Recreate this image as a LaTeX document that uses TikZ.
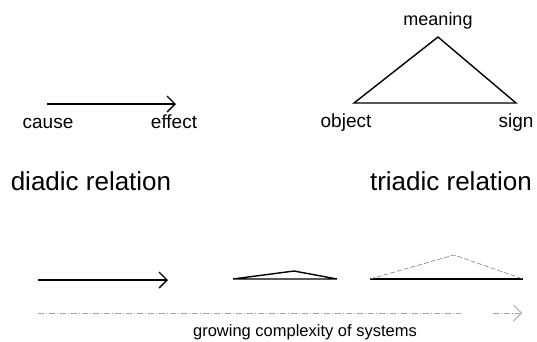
\documentclass[tikz,border=0pt]{standalone}
\usepackage{fontspec}
\setmainfont{Liberation Sans}
\usetikzlibrary{arrows.meta}
\begin{document}
\begin{tikzpicture}[x=1pt,y=-1pt,>={Straight Barb[length=8pt,width=16pt]},
  rel/.style={line width=1.4pt},
  lbl/.style={anchor=base,inner sep=0pt,font=\fontsize{19}{21}\selectfont},
  title/.style={anchor=base,inner sep=0pt,font=\fontsize{26}{28}\selectfont},
  faint/.style={gray,line width=0.6pt,dash pattern=on 5pt off 2pt},
  dashdot/.style={gray!70,line width=0.8pt,dash pattern=on 6pt off 2pt on 1pt off 2pt}]
\useasboundingbox (0,0) rectangle (537,341);
% diadic relation
\coordinate (cs) at (47,104);
\coordinate (ef) at (176,104);
\draw[rel,->] (cs) -- (ef);
\node[lbl] (cause) at (48,128) {cause};
\node[lbl] (effect) at (174,128) {effect};
% triadic relation
\coordinate (ob) at (354,103);
\coordinate (me) at (438,37);
\coordinate (si) at (516,103);
\draw[rel] (ob) -- (me) -- (si) -- cycle;
\node[lbl,font=\fontsize{18}{20}\selectfont] (meaning) at (438,25) {meaning};
\node[lbl] (object) at (346,127) {object};
\node[lbl] (sign) at (516,127) {sign};
\node[title] (diadic) at (91,190) {diadic relation};
\node[title] (triadic) at (451,190) {triadic relation};
% growing complexity
\coordinate (a1) at (38,280);
\coordinate (a2) at (168,280);
\draw[rel,->] (a1) -- (a2);
\coordinate (s1) at (233,279);
\coordinate (s2) at (294,271);
\coordinate (s3) at (337,279);
\draw[rel] (s1) -- (s2) -- (s3) -- cycle;
\coordinate (b1) at (370,279);
\coordinate (b2) at (454,255);
\coordinate (b3) at (523,279);
\draw[rel] (b1) -- (b3);
\draw[faint] (b1) -- (b2) -- (b3);
\coordinate (g1) at (38,313);
\coordinate (g2) at (461,313);
\coordinate (g3) at (493,313);
\coordinate (g4) at (522,313);
\draw[dashdot] (g1) -- (g2);
\draw[dashdot,->] (g3) -- (g4);
\node[lbl,font=\fontsize{16.5}{18}\selectfont] (growing) at (305,336) {growing complexity of systems};
\end{tikzpicture}
\end{document}
